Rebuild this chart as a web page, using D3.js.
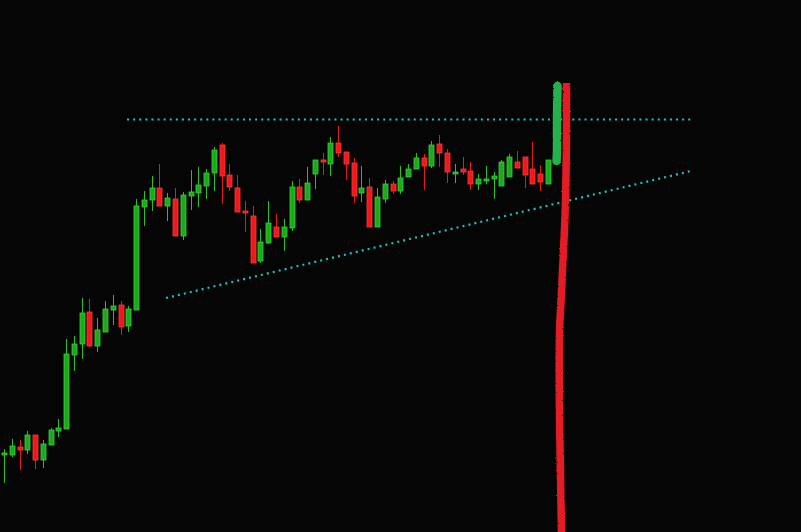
<!DOCTYPE html>
<html>
<head>
<meta charset="utf-8">
<script src="https://cdn.jsdelivr.net/npm/d3@7"></script>
<style>
html,body{margin:0;padding:0;background:#050505;}
svg{display:block;}
</style>
</head>
<body>
<svg id="chart" width="801" height="532"></svg>
<script>
// Candle data (price units)
const bars  = d3.range(1, 72);
const open  = [79,77,85,82,97,72,87,101,103,177,188,220,186,200,222,227,206,222,325,332,344,326,333,296,336,339,346,359,387,357,344,321,316,271,289,305,295,304,345,332,358,372,368,389,380,369,339,345,305,333,348,341,355,363,374,366,388,379,360,363,361,348,353,353,346,355,370,375,363,358,348,349];
const high  = [83,93,92,101,97,92,104,113,193,196,234,233,214,231,237,231,226,333,341,356,368,339,344,340,362,365,363,385,389,368,357,331,326,303,331,318,313,351,353,365,372,379,395,406,380,374,366,354,344,352,351,366,368,379,378,391,397,383,368,375,370,358,366,360,372,378,381,366,390,367,372];
const low   = [49,75,62,78,63,64,87,95,103,161,173,185,180,200,207,197,200,222,306,321,326,311,296,292,322,325,333,341,328,341,320,300,269,269,288,295,281,301,329,332,343,357,356,375,352,329,330,305,305,329,338,338,355,363,342,364,365,349,349,357,342,342,348,333,353,359,364,344,348,341,349];
const close = [79,86,82,97,72,88,102,104,178,188,219,186,202,223,226,205,223,326,332,344,326,334,296,337,340,347,359,382,356,345,320,319,269,290,309,295,305,345,332,349,372,370,389,379,368,336,344,305,335,348,341,354,363,374,366,387,379,360,360,360,348,353,353,356,370,375,364,357,348,350,372];

// Trend lines (bar index positions and price levels)
const resistance = [[16.83, 412.5], [89.66, 412.5]];
const support    = [[21.85, 234.0], [89.66, 361.5]];

// Hand-drawn annotation strokes (bar index, price)
const greenMark = [[72.22, 446], [72.16, 412], [72.16, 382], [72.10, 371]];
const redMark   = [[73.38, 449], [73.38, 402], [73.25, 332], [73.00, 282], [72.68, 232], [72.48, 199], [72.46, 132], [72.59, 65], [72.74, 0]];

const W = 801, H = 532;
const svg = d3.select("#chart");
svg.append("rect").attr("width", W).attr("height", H).attr("fill", "#050505");

const x = d3.scaleLinear().domain([1, 71]).range([4, 548]);
const y = d3.scaleLinear().domain([0, 532]).range([532, 0]);
const bodyW = 5;

const defs = svg.append("defs");
const f = defs.append("filter").attr("id", "rough").attr("filterUnits", "userSpaceOnUse")
  .attr("x", 0).attr("y", 0).attr("width", W).attr("height", H);
f.append("feTurbulence").attr("type", "fractalNoise").attr("baseFrequency", 0.6).attr("numOctaves", 2).attr("seed", 3).attr("result", "n");
f.append("feDisplacementMap").attr("in", "SourceGraphic").attr("in2", "n").attr("scale", 2.2).attr("xChannelSelector", "R").attr("yChannelSelector", "G");

const candles = bars.map((b, i) => ({b, o: open[i], h: high[i], l: low[i], c: close[i]}));
const up = d => d.c >= d.o;

// Trend lines (behind marks)
const line = d3.line().x(d => x(d[0])).y(d => y(d[1]));
[resistance, support].forEach(pts => {
  svg.append("path").attr("d", line(pts))
    .attr("fill", "none").attr("stroke", "#17c6c6")
    .attr("stroke-width", 2.2).attr("stroke-dasharray", "2,4.1");
});

const g = svg.append("g");
g.selectAll("line.wick").data(candles).join("line")
  .attr("x1", d => Math.round(x(d.b)) + 0.5).attr("x2", d => Math.round(x(d.b)) + 0.5)
  .attr("y1", d => y(d.h)).attr("y2", d => y(d.l))
  .attr("stroke", d => up(d) ? "#22c322" : "#e81818").attr("stroke-width", 1);
g.selectAll("rect.body").data(candles).join("rect")
  .attr("x", d => Math.round(x(d.b)) - 2)
  .attr("y", d => y(Math.max(d.o, d.c)))
  .attr("width", bodyW)
  .attr("height", d => Math.max(2, Math.abs(y(d.o) - y(d.c))))
  .attr("fill", d => up(d) ? "#1ea81e" : "#f01818")
  .attr("stroke", d => up(d) ? "#35d535" : "#ff3a3a").attr("stroke-width", 0.8);

// Hand-drawn marks
const curve = d3.line().x(d => x(d[0])).y(d => y(d[1])).curve(d3.curveCatmullRom);
svg.append("path").attr("d", curve(greenMark))
  .attr("fill", "none").attr("stroke", "#25b14f").attr("stroke-width", 8.5)
  .attr("stroke-linecap", "round").attr("filter", "url(#rough)");
svg.append("path").attr("d", curve(redMark))
  .attr("fill", "none").attr("stroke", "#e41c26").attr("stroke-width", 7.5)
  .attr("stroke-linecap", "butt").attr("filter", "url(#rough)");
</script>
</body>
</html>
